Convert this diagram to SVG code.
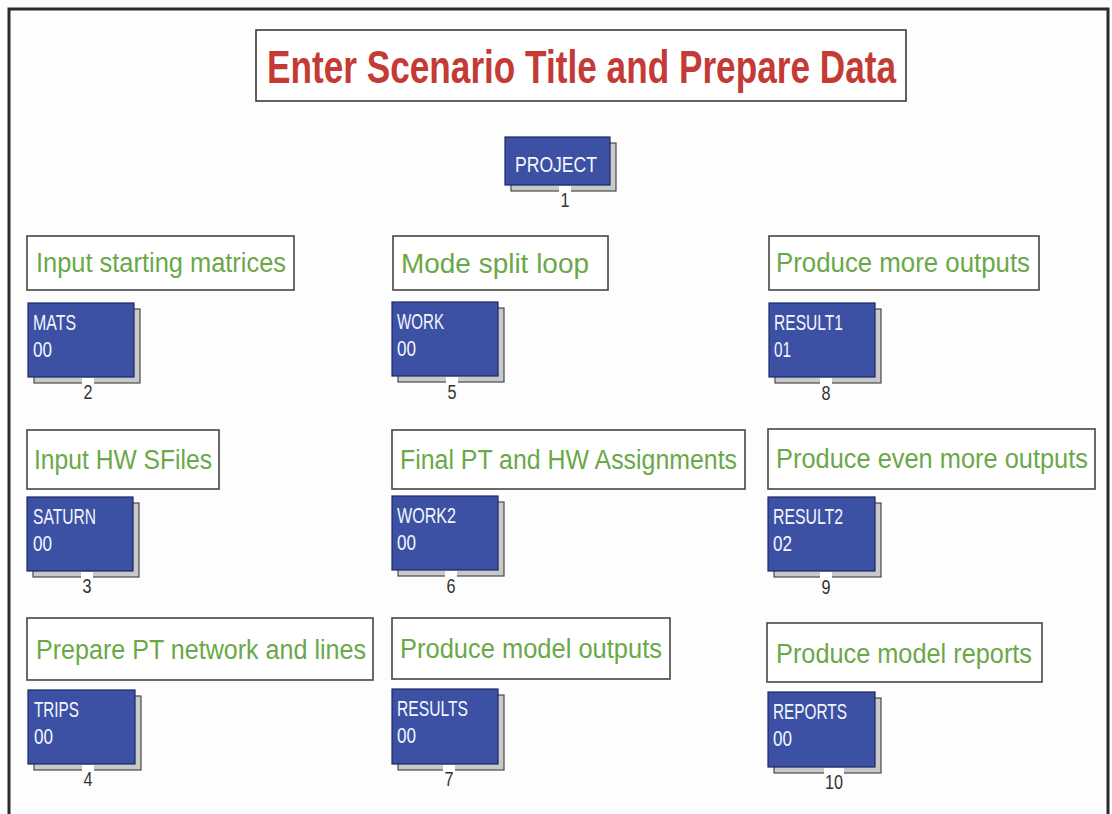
<svg xmlns="http://www.w3.org/2000/svg" width="1112" height="814" viewBox="0 0 1112 814">
<style>
.bg{fill:#fdfdfd}
.frame{fill:none;stroke:#2a2a2a;stroke-width:3}
.tbox{fill:#ffffff;stroke:#3a3a3a;stroke-width:1.6}
.title{font-family:"Liberation Sans",Arial,sans-serif;font-weight:bold;font-size:46px;fill:#c43b36}
.lbox{fill:#ffffff;stroke:#454545;stroke-width:1.6}
.lbl{font-family:"Liberation Sans",Arial,sans-serif;font-size:27px;fill:#6aa848}
.shadow{fill:#c9c9c9;stroke:#4a4a4a;stroke-width:1.2}
.node{fill:#3c51a4;stroke:#1c2766;stroke-width:1.2}
.ntxt{font-family:"Liberation Sans",Arial,sans-serif;font-size:22px;fill:#f4f6ff}
.numbg{fill:#ffffff}
.num{font-family:"Liberation Sans",Arial,sans-serif;font-size:20px;fill:#333333;text-anchor:middle}
</style>
<rect class="bg" x="0" y="0" width="1112" height="814"/>
<path class="frame" d="M9 816 V9 H1108 V816"/>

<g id="title">
<rect class="tbox" x="256" y="30" width="650" height="71"/>
<text class="title" x="267" y="83" textLength="629" lengthAdjust="spacingAndGlyphs">Enter Scenario Title and Prepare Data</text>
</g>

<g id="label-input-matrices">
<rect class="lbox" x="27" y="236" width="267" height="54"/>
<text class="lbl" x="36" y="272" textLength="250" lengthAdjust="spacingAndGlyphs">Input starting matrices</text>
</g>
<g id="label-mode-split">
<rect class="lbox" x="393" y="236" width="215" height="54"/>
<text class="lbl" x="401" y="273" textLength="188" lengthAdjust="spacingAndGlyphs">Mode split loop</text>
</g>
<g id="label-more-outputs">
<rect class="lbox" x="769" y="236" width="270" height="54"/>
<text class="lbl" x="776" y="272" textLength="254" lengthAdjust="spacingAndGlyphs">Produce more outputs</text>
</g>
<g id="label-hw-sfiles">
<rect class="lbox" x="27" y="430" width="192" height="59"/>
<text class="lbl" x="34" y="469" textLength="178" lengthAdjust="spacingAndGlyphs">Input HW SFiles</text>
</g>
<g id="label-final-assign">
<rect class="lbox" x="392" y="430" width="353" height="59"/>
<text class="lbl" x="400" y="469" textLength="337" lengthAdjust="spacingAndGlyphs">Final PT and HW Assignments</text>
</g>
<g id="label-even-more">
<rect class="lbox" x="768" y="429" width="327" height="60"/>
<text class="lbl" x="776" y="468" textLength="312" lengthAdjust="spacingAndGlyphs">Produce even more outputs</text>
</g>
<g id="label-pt-network">
<rect class="lbox" x="27" y="618" width="346" height="62"/>
<text class="lbl" x="36" y="659" textLength="330" lengthAdjust="spacingAndGlyphs">Prepare PT network and lines</text>
</g>
<g id="label-model-outputs">
<rect class="lbox" x="392" y="618" width="278" height="61"/>
<text class="lbl" x="400" y="658" textLength="262" lengthAdjust="spacingAndGlyphs">Produce model outputs</text>
</g>
<g id="label-model-reports">
<rect class="lbox" x="767" y="623" width="275" height="59"/>
<text class="lbl" x="776" y="663" textLength="256" lengthAdjust="spacingAndGlyphs">Produce model reports</text>
</g>

<g id="node-1-project">
<rect class="shadow" x="511" y="143" width="105" height="48"/>
<rect class="node" x="505" y="137" width="105" height="48"/>
<text class="ntxt" x="515" y="172" textLength="82" lengthAdjust="spacingAndGlyphs">PROJECT</text>
<rect class="numbg" x="559" y="186" width="12" height="6"/>
<text class="num" x="565" y="207" textLength="9" lengthAdjust="spacingAndGlyphs">1</text>
</g>

<g id="node-2-mats">
<rect class="shadow" x="34" y="309" width="106" height="74"/>
<rect class="node" x="28" y="303" width="106" height="74"/>
<text class="ntxt" x="33" y="330" textLength="43" lengthAdjust="spacingAndGlyphs">MATS</text>
<text class="ntxt" x="33" y="357" textLength="19" lengthAdjust="spacingAndGlyphs">00</text>
<rect class="numbg" x="82" y="378" width="12" height="6"/>
<text class="num" x="88" y="399" textLength="9" lengthAdjust="spacingAndGlyphs">2</text>
</g>

<g id="node-5-work">
<rect class="shadow" x="398" y="308" width="106" height="74"/>
<rect class="node" x="392" y="302" width="106" height="74"/>
<text class="ntxt" x="397" y="329" textLength="47" lengthAdjust="spacingAndGlyphs">WORK</text>
<text class="ntxt" x="397" y="356" textLength="19" lengthAdjust="spacingAndGlyphs">00</text>
<rect class="numbg" x="446" y="377" width="12" height="6"/>
<text class="num" x="452" y="399" textLength="9" lengthAdjust="spacingAndGlyphs">5</text>
</g>

<g id="node-8-result1">
<rect class="shadow" x="775" y="309" width="106" height="74"/>
<rect class="node" x="769" y="303" width="106" height="74"/>
<text class="ntxt" x="774" y="330" textLength="69" lengthAdjust="spacingAndGlyphs">RESULT1</text>
<text class="ntxt" x="774" y="357" textLength="17" lengthAdjust="spacingAndGlyphs">01</text>
<rect class="numbg" x="820" y="378" width="12" height="6"/>
<text class="num" x="826" y="400" textLength="9" lengthAdjust="spacingAndGlyphs">8</text>
</g>

<g id="node-3-saturn">
<rect class="shadow" x="33" y="503" width="106" height="74"/>
<rect class="node" x="27" y="497" width="106" height="74"/>
<text class="ntxt" x="33" y="524" textLength="63" lengthAdjust="spacingAndGlyphs">SATURN</text>
<text class="ntxt" x="33" y="551" textLength="19" lengthAdjust="spacingAndGlyphs">00</text>
<rect class="numbg" x="81" y="572" width="12" height="6"/>
<text class="num" x="87" y="593" textLength="9" lengthAdjust="spacingAndGlyphs">3</text>
</g>

<g id="node-6-work2">
<rect class="shadow" x="398" y="502" width="106" height="74"/>
<rect class="node" x="392" y="496" width="106" height="74"/>
<text class="ntxt" x="397" y="523" textLength="59" lengthAdjust="spacingAndGlyphs">WORK2</text>
<text class="ntxt" x="397" y="550" textLength="19" lengthAdjust="spacingAndGlyphs">00</text>
<rect class="numbg" x="445" y="571" width="12" height="6"/>
<text class="num" x="451" y="593" textLength="9" lengthAdjust="spacingAndGlyphs">6</text>
</g>

<g id="node-9-result2">
<rect class="shadow" x="774" y="503" width="107" height="74"/>
<rect class="node" x="768" y="497" width="107" height="74"/>
<text class="ntxt" x="773" y="524" textLength="70" lengthAdjust="spacingAndGlyphs">RESULT2</text>
<text class="ntxt" x="773" y="551" textLength="19" lengthAdjust="spacingAndGlyphs">02</text>
<rect class="numbg" x="820" y="572" width="12" height="6"/>
<text class="num" x="826" y="594" textLength="9" lengthAdjust="spacingAndGlyphs">9</text>
</g>

<g id="node-4-trips">
<rect class="shadow" x="34" y="696" width="107" height="74"/>
<rect class="node" x="28" y="690" width="107" height="74"/>
<text class="ntxt" x="34" y="717" textLength="45" lengthAdjust="spacingAndGlyphs">TRIPS</text>
<text class="ntxt" x="34" y="744" textLength="19" lengthAdjust="spacingAndGlyphs">00</text>
<rect class="numbg" x="82" y="765" width="12" height="6"/>
<text class="num" x="88" y="786" textLength="9" lengthAdjust="spacingAndGlyphs">4</text>
</g>

<g id="node-7-results">
<rect class="shadow" x="398" y="695" width="106" height="75"/>
<rect class="node" x="392" y="689" width="106" height="75"/>
<text class="ntxt" x="397" y="716" textLength="71" lengthAdjust="spacingAndGlyphs">RESULTS</text>
<text class="ntxt" x="397" y="743" textLength="19" lengthAdjust="spacingAndGlyphs">00</text>
<rect class="numbg" x="443" y="765" width="12" height="6"/>
<text class="num" x="449" y="786" textLength="9" lengthAdjust="spacingAndGlyphs">7</text>
</g>

<g id="node-10-reports">
<rect class="shadow" x="774" y="698" width="107" height="75"/>
<rect class="node" x="768" y="692" width="107" height="75"/>
<text class="ntxt" x="773" y="719" textLength="74" lengthAdjust="spacingAndGlyphs">REPORTS</text>
<text class="ntxt" x="773" y="746" textLength="19" lengthAdjust="spacingAndGlyphs">00</text>
<rect class="numbg" x="824" y="768" width="20" height="6"/>
<text class="num" x="834" y="789" textLength="18" lengthAdjust="spacingAndGlyphs">10</text>
</g>

<g id="connectors"/>
</svg>
